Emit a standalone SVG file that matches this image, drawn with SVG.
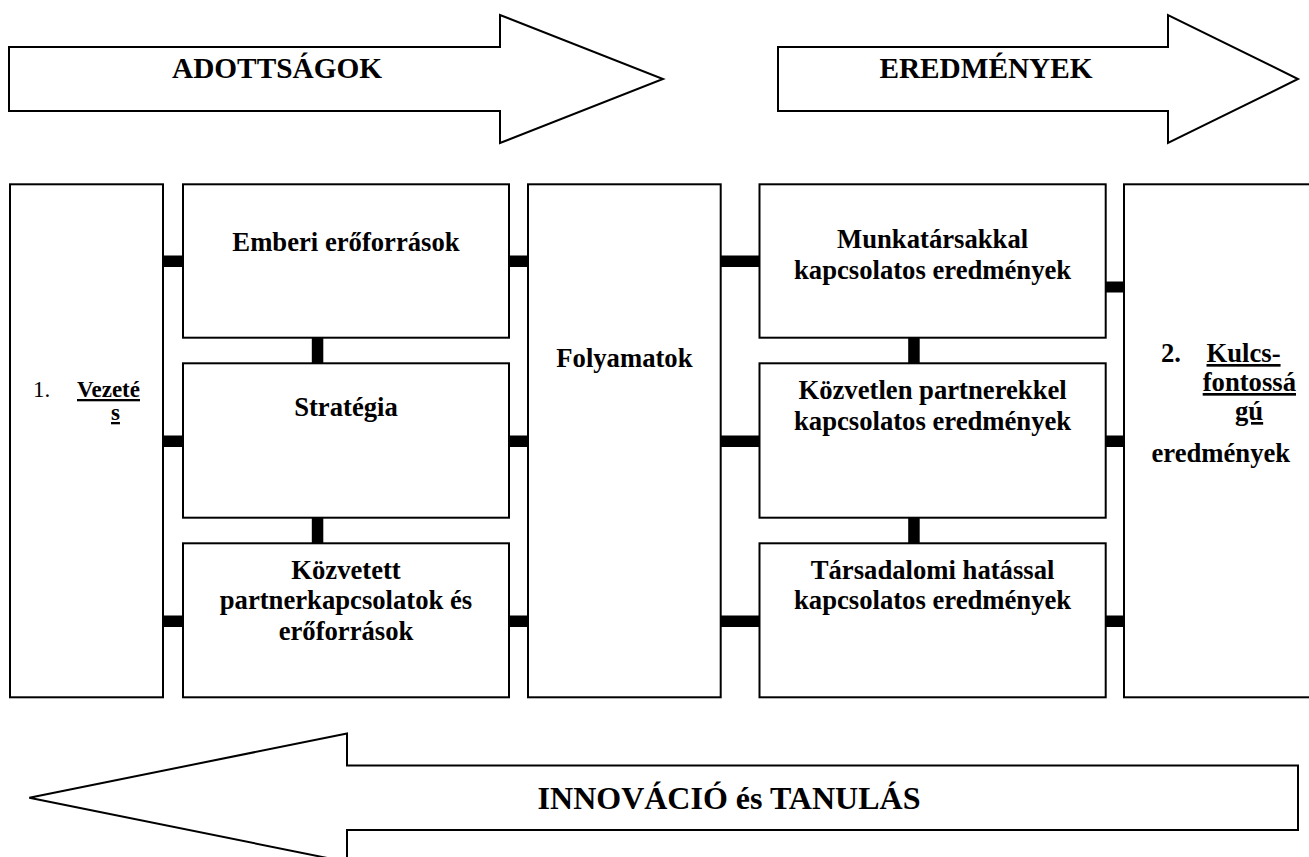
<svg xmlns="http://www.w3.org/2000/svg" width="1309" height="857" viewBox="0 0 1309 857">
<style>
.box{fill:#fff;stroke:#000;stroke-width:2}
.arr{fill:#fff;stroke:#000;stroke-width:2;stroke-linejoin:miter}
.bar{fill:#000}
text{font-family:"Liberation Serif","Times New Roman",serif;fill:#000}
.t{font-size:26.67px;font-weight:bold;text-anchor:middle}
.h{font-size:29.3px;font-weight:bold;text-anchor:middle}
.u{text-decoration:underline}
</style>
<rect width="1309" height="857" fill="#fff"/>
<g id="arrow-adottsagok">
<polygon class="arr" points="9,47 500,47 500,15 663,79 500,143 500,111 9,111"/>
<text class="h" x="277" y="78">ADOTTSÁGOK</text>
</g>
<g id="arrow-eredmenyek">
<polygon class="arr" points="778,47 1168,47 1168,15 1298,79 1168,143 1168,111 778,111"/>
<text class="h" x="986" y="78">EREDMÉNYEK</text>
</g>
<g id="arrow-innovacio">
<polygon class="arr" points="1298,765.5 347,765.5 347,733.5 29.3,797.7 347,862 347,830 1298,830"/>
<text class="h" x="729" y="809" style="font-size:32px">INNOVÁCIÓ és TANULÁS</text>
</g>
<g id="connectors">
<rect class="bar" x="163" y="255.5" width="20" height="11.5"/>
<rect class="bar" x="163" y="435.5" width="20" height="11.5"/>
<rect class="bar" x="163" y="615.5" width="20" height="11.5"/>
<rect class="bar" x="509" y="255.5" width="19" height="11.5"/>
<rect class="bar" x="509" y="435.5" width="19" height="11.5"/>
<rect class="bar" x="509" y="615.5" width="19" height="11.5"/>
<rect class="bar" x="720.7" y="255.5" width="38.8" height="11.5"/>
<rect class="bar" x="720.7" y="435.5" width="38.8" height="11.5"/>
<rect class="bar" x="720.7" y="615.5" width="38.8" height="11.5"/>
<rect class="bar" x="1105.7" y="281.5" width="18.3" height="11"/>
<rect class="bar" x="1105.7" y="435.5" width="18.3" height="11.5"/>
<rect class="bar" x="1105.7" y="615.5" width="18.3" height="11.5"/>
<rect class="bar" x="311.8" y="337.7" width="11.5" height="25.6"/>
<rect class="bar" x="311.8" y="517.7" width="11.5" height="25.6"/>
<rect class="bar" x="908.2" y="337.7" width="11.5" height="25.6"/>
<rect class="bar" x="908.2" y="517.7" width="11.5" height="25.6"/>
</g>
<g id="vezetes">
<rect class="box" x="10" y="184.3" width="153" height="513"/>
<text x="33" y="397" style="font-size:23px">1.</text>
<text class="u" x="77" y="397" style="font-size:23px;font-weight:bold">Vezeté</text>
<text class="u" x="111" y="420" style="font-size:23px;font-weight:bold">s</text>
</g>
<g id="emberi">
<rect class="box" x="183" y="184.3" width="326" height="153.4"/>
<text class="t" x="346" y="251">Emberi erőforrások</text>
</g>
<g id="strategia">
<rect class="box" x="183" y="363.3" width="326" height="154.4"/>
<text class="t" x="346" y="416">Stratégia</text>
</g>
<g id="kozvetett">
<rect class="box" x="183" y="543.3" width="326" height="154"/>
<text class="t" x="346" y="579">Közvetett</text>
<text class="t" x="346" y="609">partnerkapcsolatok és</text>
<text class="t" x="346" y="640">erőforrások</text>
</g>
<g id="folyamatok">
<rect class="box" x="528" y="184.3" width="192.7" height="513"/>
<text class="t" x="624.4" y="367">Folyamatok</text>
</g>
<g id="munkatarsak">
<rect class="box" x="759.5" y="184.3" width="346.2" height="153.4"/>
<text class="t" x="932.6" y="248">Munkatársakkal</text>
<text class="t" x="932.6" y="278.5">kapcsolatos eredmények</text>
</g>
<g id="kozvetlen">
<rect class="box" x="759.5" y="363.3" width="346.2" height="154.4"/>
<text class="t" x="932.6" y="399">Közvetlen partnerekkel</text>
<text class="t" x="932.6" y="429.5">kapcsolatos eredmények</text>
</g>
<g id="tarsadalmi">
<rect class="box" x="759.5" y="543.3" width="346.2" height="154"/>
<text class="t" x="932.6" y="579">Társadalomi hatással</text>
<text class="t" x="932.6" y="609">kapcsolatos eredmények</text>
</g>
<g id="kulcsfontossagu">
<rect class="box" x="1124" y="184.3" width="190" height="513"/>
<text x="1161" y="362" style="font-size:26.67px;font-weight:bold">2.</text>
<text class="u" x="1206.5" y="362" style="font-size:26.67px;font-weight:bold">Kulcs-</text>
<text class="u" x="1202.7" y="391" style="font-size:26.67px;font-weight:bold">fontossá</text>
<text class="u" x="1235" y="420" style="font-size:26.67px;font-weight:bold">gú</text>
<text x="1151.5" y="462" style="font-size:26.67px;font-weight:bold">eredmények</text>
</g>
</svg>
